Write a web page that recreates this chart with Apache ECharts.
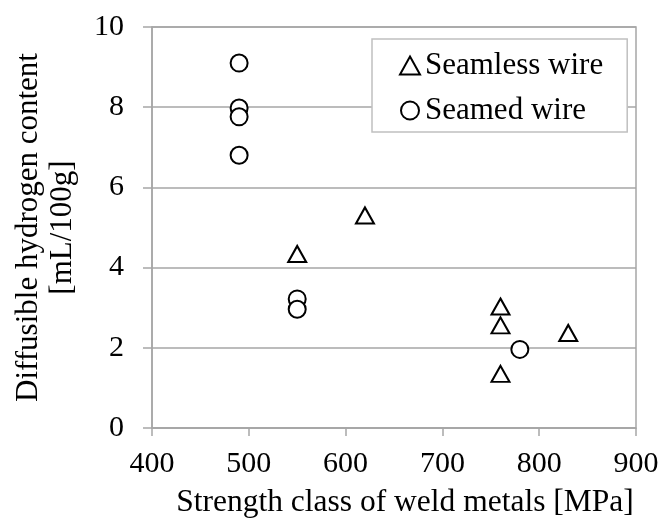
<!DOCTYPE html>
<html><head><meta charset="utf-8">
<script src="https://cdn.jsdelivr.net/npm/echarts@6/dist/echarts.min.js"></script>
<style>html,body{margin:0;padding:0;background:#fff}#c{width:661px;height:521px}</style>
</head><body><div id="c"></div>
<script>
const xTicks = [400, 500, 600, 700, 800, 900];
const yTicks = [0, 2, 4, 6, 8, 10];
const seamlessX = [550, 620, 760, 760, 760, 830];
const seamlessY = [4.34, 5.3, 3.03, 2.56, 1.35, 2.37];
const seamedX = [490, 490, 490, 490, 550, 550, 780];
const seamedY = [9.1, 7.98, 7.76, 6.8, 3.22, 2.96, 1.96];
const seriesNames = ['Seamless wire', 'Seamed wire'];

const FONT = '"Liberation Serif","Times New Roman",serif';
const GRAY = '#a6a6a6';
const zip = (xs, ys) => xs.map((x, i) => [x, ys[i]]);

const chart = echarts.init(document.getElementById('c'), null, {renderer: 'canvas'});
chart.setOption({
  animation: false,
  backgroundColor: '#fff',
  textStyle: {fontFamily: FONT, color: '#000'},
  grid: {left: 152, right: 25, top: 27, bottom: 93, outerBoundsMode: 'none', containLabel: false,
         show: true, borderColor: GRAY, borderWidth: 1.5, backgroundColor: '#fff'},
  xAxis: {
    type: 'value', min: xTicks[0], max: xTicks[xTicks.length - 1], interval: 100,
    name: 'Strength class of weld metals [MPa]', nameLocation: 'middle', nameGap: 59,
    nameTextStyle: {fontFamily: FONT, fontSize: 31.5, color: '#000', padding: [0, 0, 0, 22]},
    axisLine: {show: true, lineStyle: {color: GRAY, width: 1.5}},
    axisTick: {show: true, inside: false, length: 8, lineStyle: {color: GRAY, width: 1.5}},
    axisLabel: {fontFamily: FONT, fontSize: 30, color: '#000', margin: 21},
    splitLine: {show: false}
  },
  yAxis: {
    type: 'value', min: yTicks[0], max: yTicks[yTicks.length - 1], interval: 2,
    name: 'Diffusible hydrogen content\n[mL/100g]', nameLocation: 'middle', nameGap: 72, nameRotate: 90,
    nameTextStyle: {fontFamily: FONT, fontSize: 31, color: '#000', lineHeight: 34},
    axisLine: {show: true, lineStyle: {color: GRAY, width: 1.5}},
    axisTick: {show: true, inside: false, length: 9, lineStyle: {color: GRAY, width: 1.5}},
    axisLabel: {fontFamily: FONT, fontSize: 30, color: '#000', margin: 28},
    splitLine: {show: true, lineStyle: {color: GRAY, width: 1.5}}
  },
  legend: {
    orient: 'vertical', left: 372, top: 39,
    padding: [11, 24, 6, 27], itemGap: 14, itemWidth: 20, itemHeight: 18,
    backgroundColor: '#fff', borderColor: '#c0c0c0', borderWidth: 1.5,
    textStyle: {fontFamily: FONT, fontSize: 31, color: '#000'},
    data: [
      {name: seriesNames[0], icon: 'triangle'},
      {name: seriesNames[1], icon: 'circle'}
    ]
  },
  series: [
    {
      name: seriesNames[0], type: 'scatter', symbol: 'triangle', symbolSize: [18, 16],
      itemStyle: {color: '#fff', borderColor: '#000', borderWidth: 2, opacity: 1},
      data: zip(seamlessX, seamlessY)
    },
    {
      name: seriesNames[1], type: 'scatter', symbol: 'circle', symbolSize: 17,
      itemStyle: {color: '#fff', borderColor: '#000', borderWidth: 2, opacity: 1},
      data: zip(seamedX, seamedY)
    }
  ]
});
</script></body></html>
